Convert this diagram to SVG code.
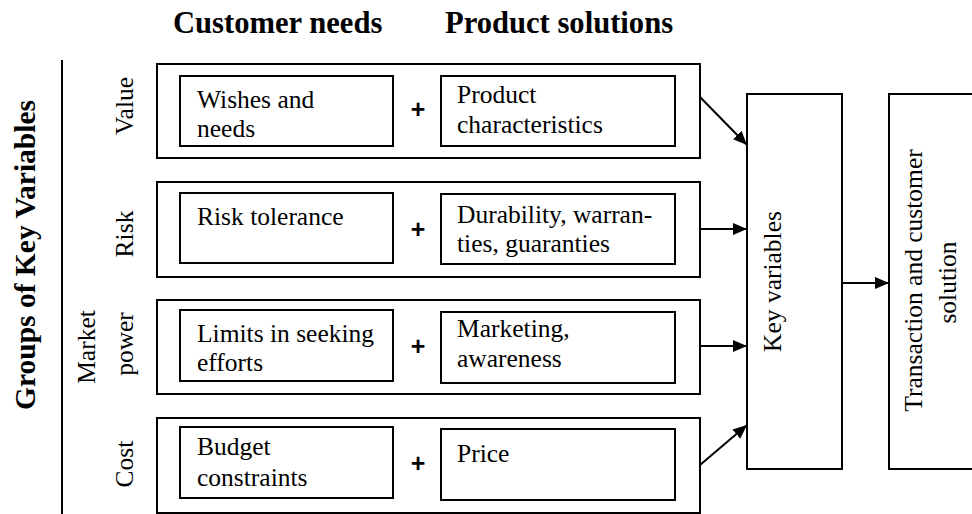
<svg xmlns="http://www.w3.org/2000/svg" width="972" height="514" viewBox="0 0 972 514">
<style>
.box{fill:#fff;stroke:#000;stroke-width:2}
.t{font-family:"Liberation Serif","Times New Roman",serif;font-size:25.5px;fill:#000}
.b{font-family:"Liberation Serif","Times New Roman",serif;font-size:29.5px;font-weight:bold;fill:#000}
.h{font-family:"Liberation Serif","Times New Roman",serif;font-size:30.6px;font-weight:bold;fill:#000}
.plus{font-family:"Liberation Sans",Arial,sans-serif;font-size:25px;font-weight:bold;fill:#000;text-anchor:middle}
.m{text-anchor:middle}
.c{stroke:#000;stroke-width:2;fill:none;marker-end:url(#ah)}
</style>
<defs>
<marker id="ah" markerUnits="userSpaceOnUse" markerWidth="14" markerHeight="14" viewBox="0 0 14 14" refX="14" refY="7" orient="auto">
<path d="M0,1 L14,7 L0,13 Z" fill="#000"/>
</marker>
</defs>
<rect width="972" height="514" fill="#fff"/>
<g id="headers">
<text class="h" x="173" y="33">Customer needs</text>
<text class="h" x="445" y="33">Product solutions</text>
</g>
<g id="groups-label">
<text class="b m" transform="translate(35,255) rotate(-90)">Groups of Key Variables</text>
<line x1="62" y1="60" x2="62" y2="514" stroke="#000" stroke-width="2"/>
</g>
<g id="value">
<text class="t m" transform="translate(133,106) rotate(-90)">Value</text>
<rect class="box" x="157" y="64" width="543" height="94"/>
<rect class="box" x="180" y="76" width="213" height="70"/>
<text class="t" x="197" y="108">Wishes and</text>
<text class="t" x="197" y="137">needs</text>
<text class="plus" x="418" y="118">+</text>
<rect class="box" x="441" y="76" width="234" height="70"/>
<text class="t" x="457" y="103">Product</text>
<text class="t" x="457" y="133">characteristics</text>
</g>
<g id="risk">
<text class="t m" transform="translate(133,234) rotate(-90)">Risk</text>
<rect class="box" x="157" y="182" width="543" height="95"/>
<rect class="box" x="180" y="193" width="213" height="70"/>
<text class="t" x="197" y="225">Risk tolerance</text>
<text class="plus" x="418" y="238">+</text>
<rect class="box" x="441" y="194" width="234" height="70"/>
<text class="t" x="457" y="223">Durability, warran-</text>
<text class="t" x="457" y="252">ties, guaranties</text>
</g>
<g id="market-power">
<text class="t m" transform="translate(95,347) rotate(-90)">Market</text>
<text class="t m" transform="translate(133,344) rotate(-90)">power</text>
<rect class="box" x="157" y="300" width="543" height="94"/>
<rect class="box" x="180" y="310" width="213" height="71"/>
<text class="t" x="197" y="342">Limits in seeking</text>
<text class="t" x="197" y="371">efforts</text>
<text class="plus" x="418" y="355">+</text>
<rect class="box" x="441" y="312" width="234" height="71"/>
<text class="t" x="457" y="337">Marketing,</text>
<text class="t" x="457" y="367">awareness</text>
</g>
<g id="cost">
<text class="t m" transform="translate(133,464) rotate(-90)">Cost</text>
<rect class="box" x="157" y="418" width="543" height="95"/>
<rect class="box" x="180" y="427" width="213" height="71"/>
<text class="t" x="197" y="455">Budget</text>
<text class="t" x="197" y="486">constraints</text>
<text class="plus" x="418" y="472">+</text>
<rect class="box" x="441" y="429" width="234" height="71"/>
<text class="t" x="457" y="462">Price</text>
</g>
<g id="key-variables">
<rect class="box" x="747" y="94" width="95" height="375"/>
<text class="t m" transform="translate(781,281.5) rotate(-90)">Key variables</text>
</g>
<g id="transaction">
<rect class="box" x="889" y="94" width="90" height="375"/>
<text class="t m" transform="translate(922,280.5) rotate(-90)">Transaction and customer</text>
<text class="t m" transform="translate(956,282.5) rotate(-90)">solution</text>
</g>
<g id="connectors">
<line class="c" x1="700" y1="97" x2="747" y2="145"/>
<line class="c" x1="700" y1="229" x2="747" y2="229"/>
<line class="c" x1="700" y1="346" x2="747" y2="346"/>
<line class="c" x1="700" y1="465" x2="747" y2="425"/>
<line class="c" x1="842" y1="283" x2="889" y2="283"/>
</g>
</svg>
